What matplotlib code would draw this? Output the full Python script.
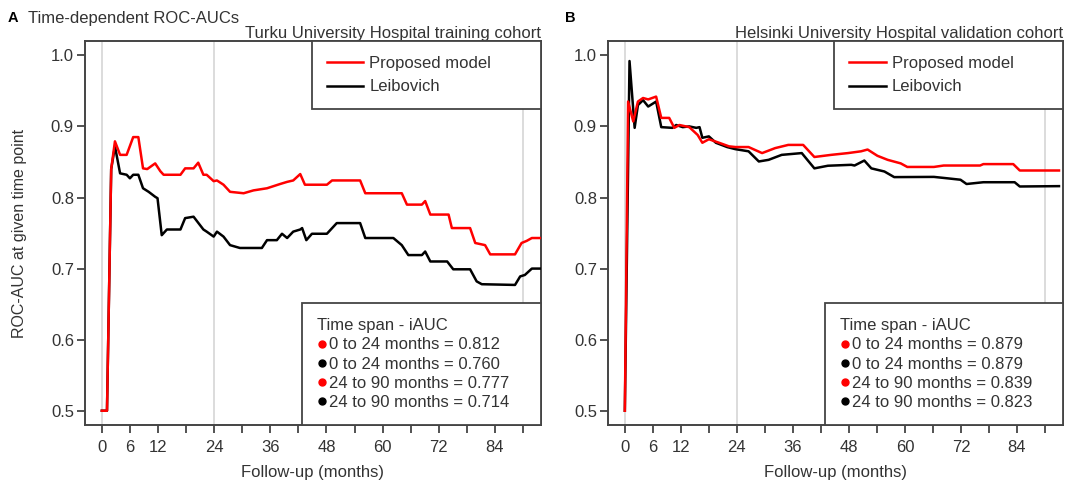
import matplotlib
matplotlib.use("Agg")
import matplotlib.pyplot as plt
from matplotlib.lines import Line2D

plt.rcParams['font.family'] = ['Liberation Sans', 'DejaVu Sans']

# Turku (training) cohort
turku_t_prop = [0, 1.1, 2.0, 2.8, 3.9, 5.3, 6.7, 7.8, 8.8, 9.7, 11.4, 12.5, 13.2, 16.8, 17.8, 19.6,
                20.6, 21.7, 22.4, 23.9, 24.6, 26.0, 27.4, 30.3, 32.4, 35.3, 38.1, 39.6, 40.9, 42.4,
                43.4, 48.1, 49.2, 55.2, 56.3, 64.1, 65.2, 68.4, 69.1, 70.2, 74.1, 74.8, 78.7, 79.8,
                81.9, 83.0, 88.3, 89.7, 90.8, 91.9, 93.7]
turku_auc_prop = [0.5, 0.5, 0.84, 0.879, 0.86, 0.86, 0.885, 0.885, 0.841, 0.84, 0.848, 0.837, 0.832,
                  0.832, 0.841, 0.841, 0.849, 0.832, 0.832, 0.823, 0.824, 0.818, 0.808, 0.806, 0.81,
                  0.813, 0.819, 0.822, 0.824, 0.833, 0.818, 0.818, 0.824, 0.824, 0.806, 0.806, 0.79,
                  0.79, 0.795, 0.776, 0.776, 0.757, 0.757, 0.736, 0.733, 0.72, 0.72, 0.736, 0.739,
                  0.743, 0.743]
turku_t_leib = [0, 1.1, 2.0, 2.8, 3.9, 5.3, 6.0, 6.7, 7.8, 8.8, 10.0, 11.4, 11.9, 12.8, 13.9, 16.8,
                17.8, 19.6, 21.7, 22.4, 23.9, 24.6, 26.0, 27.4, 29.5, 34.2, 35.3, 37.4, 38.5, 39.6,
                40.9, 42.4, 42.8, 43.7, 44.9, 48.1, 50.2, 55.2, 56.3, 62.3, 64.1, 65.5, 68.4, 69.1,
                70.2, 73.8, 75.1, 78.7, 80.1, 81.2, 88.3, 89.4, 90.4, 91.9, 93.7]
turku_auc_leib = [0.5, 0.5, 0.84, 0.872, 0.834, 0.832, 0.827, 0.832, 0.832, 0.813, 0.808, 0.801,
                  0.799, 0.747, 0.755, 0.755, 0.771, 0.773, 0.755, 0.752, 0.745, 0.752, 0.745,
                  0.733, 0.729, 0.729, 0.74, 0.74, 0.749, 0.743, 0.752, 0.755, 0.757, 0.74, 0.749,
                  0.749, 0.764, 0.764, 0.743, 0.743, 0.733, 0.719, 0.719, 0.724, 0.71, 0.71, 0.699,
                  0.699, 0.682, 0.678, 0.677, 0.689, 0.691, 0.7, 0.7]

# Helsinki (validation) cohort
hus_t_prop = [0, 0.7, 1.8, 2.8, 3.9, 5.0, 6.7, 7.8, 9.5, 10.6, 11.7, 13.8, 15.6, 16.6, 18.0,
              20.2, 22.3, 23.7, 26.5, 29.4, 32.2, 35.0, 38.2, 40.6, 44.2, 47.8, 50.6, 52.0, 54.1,
              56.3, 59.1, 60.5, 66.2, 68.3, 76.1, 76.8, 83.2, 84.6, 93.0]
hus_auc_prop = [0.5, 0.935, 0.907, 0.935, 0.94, 0.938, 0.942, 0.912, 0.912, 0.898, 0.902,
                0.899, 0.888, 0.877, 0.882, 0.877, 0.872, 0.871, 0.871, 0.8625, 0.8695, 0.874,
                0.874, 0.857, 0.86, 0.8625, 0.865, 0.8675, 0.8587, 0.853, 0.848, 0.843, 0.843,
                0.845, 0.845, 0.847, 0.847, 0.838, 0.838]
hus_t_leib = [0, 1.0, 2.1, 2.8, 3.9, 5.0, 6.7, 7.8, 10.2, 11.0, 12.4, 13.8, 15.3, 16.0, 16.6,
              18.0, 19.5, 21.9, 23.7, 26.5, 28.7, 30.8, 33.6, 37.9, 40.6, 43.5, 48.5, 49.2, 51.3,
              52.8, 55.6, 57.7, 66.2, 69.1, 71.9, 73.2, 76.8, 83.5, 84.6, 93.0]
hus_auc_leib = [0.5, 0.992, 0.898, 0.93, 0.937, 0.928, 0.935, 0.899, 0.898, 0.902, 0.899,
                0.9, 0.898, 0.899, 0.884, 0.886, 0.877, 0.871, 0.868, 0.865, 0.8507, 0.853, 0.86,
                0.8625, 0.841, 0.8447, 0.846, 0.845, 0.852, 0.841, 0.8366, 0.8287, 0.829, 0.827,
                0.825, 0.819, 0.8215, 0.8215, 0.8155, 0.816]

iauc_spans = ["0 to 24 months", "0 to 24 months", "24 to 90 months", "24 to 90 months"]
turku_iauc = [0.812, 0.760, 0.777, 0.714]
hus_iauc = [0.879, 0.879, 0.839, 0.823]
iauc_colors = ["red", "black", "red", "black"]

xticks = list(range(0, 91, 6))
xlabels_shown = [0, 6, 12, 24, 36, 48, 60, 72, 84]

FS = 12
txt = "#333333"

fig = plt.figure(figsize=(10.8, 4.84), dpi=100)
ax_a = fig.add_axes([0.0787, 0.122, 0.422, 0.793])
ax_b = fig.add_axes([0.563, 0.122, 0.421, 0.793])

panels = [
    (ax_a, turku_t_prop, turku_auc_prop, turku_t_leib, turku_auc_leib, turku_iauc,
     "Turku University Hospital training cohort"),
    (ax_b, hus_t_prop, hus_auc_prop, hus_t_leib, hus_auc_leib, hus_iauc,
     "Helsinki University Hospital validation cohort"),
]

for ax, tp, ap, tl, al, iauc, cohort in panels:
    for xv in (0, 24, 90):
        ax.axvline(xv, color="#d9d9d9", lw=1.3, zorder=1)
    ax.plot(tl, al, color="black", lw=1.8, zorder=3)
    ax.plot(tp, ap, color="red", lw=1.8, zorder=4)

    ax.set_xlim(-3.6, 93.8)
    ax.set_ylim(0.48, 1.02)
    ax.set_xticks(xticks)
    ax.set_xticklabels([str(v) if v in xlabels_shown else "" for v in xticks])
    ax.set_yticks([0.5, 0.6, 0.7, 0.8, 0.9, 1.0])
    ax.tick_params(direction="out", length=6, width=1.3, color="#444444",
                   labelsize=FS, labelcolor=txt, pad=2)
    ax.tick_params(axis="x", pad=5)
    for s in ax.spines.values():
        s.set_color("#444444")
        s.set_linewidth(1.4)
    ax.set_xlabel("Follow-up (months)", fontsize=FS, color=txt, labelpad=7)
    ax.set_title(cohort, loc="right", fontsize=FS, color=txt, pad=1)

    top_handles = [Line2D([], [], color="red", lw=1.8), Line2D([], [], color="black", lw=1.8)]
    leg1 = ax.legend(top_handles, ["Proposed model", "Leibovich"], loc="upper left",
                     bbox_to_anchor=(0.497, 0.0, 0.503, 1.0), mode="expand", borderaxespad=0,
                     fontsize=FS, handlelength=2.2, labelspacing=0.5, borderpad=0.9,
                     handletextpad=0.36, fancybox=False, framealpha=1, edgecolor="#444444")
    leg1.get_frame().set_linewidth(1.3)
    for t in leg1.get_texts():
        t.set_color(txt)
    ax.add_artist(leg1)

    dot_handles = [Line2D([], [], ls="", marker="o", color=c, markersize=5) for c in iauc_colors]
    dot_labels = [f"{s} = {v:.3f}" for s, v in zip(iauc_spans, iauc)]
    leg2 = ax.legend(dot_handles, dot_labels, title="Time span - iAUC", loc="lower left",
                     bbox_to_anchor=(0.477 if ax is ax_a else 0.478, 0.0, 0.523, 1.0),
                     mode="expand", borderaxespad=0, fontsize=FS, title_fontsize=FS,
                     handlelength=0.5, handletextpad=0.2, labelspacing=0.25, borderpad=0.9,
                     alignment="left", fancybox=False, framealpha=1, edgecolor="#444444")
    leg2.get_frame().set_linewidth(1.3)
    for t in leg2.get_texts():
        t.set_color(txt)
    leg2.get_title().set_color(txt)

ax_a.set_ylabel("ROC-AUC at given time point", fontsize=11.5, color=txt, labelpad=17)

fig.text(0.007, 0.962, "A", fontsize=10.5, fontweight="bold", va="center")
fig.text(0.026, 0.962, "Time-dependent ROC-AUCs", fontsize=FS, color=txt, va="center")
fig.text(0.523, 0.962, "B", fontsize=10.5, fontweight="bold", va="center")

fig.savefig("out.png", dpi=100)
